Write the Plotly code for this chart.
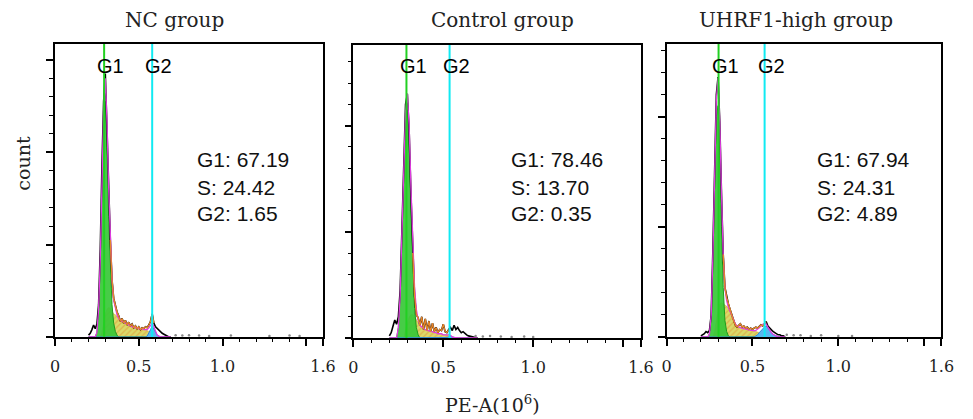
import plotly.graph_objects as go

FIG_W, FIG_H = 973, 419

GROUPS = ["NC group", "Control group", "UHRF1-high group"]

# PE-A bins (10^6)
X_BINS = [0.20, 0.21, 0.22, 0.23, 0.24, 0.25, 0.26, 0.27, 0.28, 0.29,
          0.30, 0.31, 0.32, 0.33, 0.34, 0.35, 0.36, 0.37, 0.38, 0.39,
          0.40, 0.41, 0.42, 0.43, 0.44, 0.45, 0.46, 0.47, 0.48, 0.49,
          0.50, 0.51, 0.52, 0.53, 0.54, 0.55, 0.56, 0.57, 0.58, 0.59,
          0.60, 0.61, 0.62, 0.63, 0.64, 0.65, 0.66, 0.67, 0.68, 0.69]

# raw histogram counts (arbitrary count units)
RAW_NC = [0.02, 0.04, 0.08, 0.13, 0.09, 0.14, 0.35, 0.95, 1.85, 2.55,
          2.85, 2.35, 1.65, 1.05, 0.62, 0.42, 0.33, 0.27, 0.23, 0.17,
          0.20, 0.15, 0.18, 0.13, 0.16, 0.12, 0.14, 0.10, 0.12, 0.09,
          0.11, 0.08, 0.10, 0.09, 0.11, 0.10, 0.13, 0.17, 0.25, 0.15,
          0.11, 0.09, 0.07, 0.06, 0.04, 0.03, 0.02, 0.01, 0.0, 0.0]
RAW_CTRL = [0.02, 0.05, 0.11, 0.17, 0.13, 0.20, 0.45, 1.10, 1.80, 2.20,
            2.30, 1.95, 1.35, 0.80, 0.40, 0.22, 0.19, 0.12, 0.20, 0.08,
            0.18, 0.07, 0.16, 0.06, 0.14, 0.06, 0.10, 0.05, 0.08, 0.07,
            0.13, 0.06, 0.05, 0.08, 0.10, 0.07, 0.12, 0.08, 0.10, 0.07,
            0.05, 0.06, 0.04, 0.03, 0.02, 0.015, 0.01, 0.01, 0.0, 0.0]
RAW_UHRF = [0.01, 0.02, 0.03, 0.05, 0.04, 0.06, 0.20, 0.80, 1.60, 2.20,
            2.36, 1.95, 1.30, 0.75, 0.45, 0.36, 0.30, 0.25, 0.20, 0.15,
            0.11, 0.09, 0.11, 0.12, 0.09, 0.10, 0.08, 0.09, 0.07, 0.08,
            0.07, 0.08, 0.09, 0.08, 0.10, 0.11, 0.10, 0.12, 0.14, 0.10,
            0.08, 0.06, 0.05, 0.04, 0.03, 0.02, 0.02, 0.01, 0.01, 0.0]

# fitted model components
G1_NC = [0] * 5 + [0.05, 0.30, 0.85, 1.70, 2.30, 2.55, 2.05, 1.30, 0.72, 0.35,
                   0.15, 0.06, 0.02] + [0] * 32
S_NC = [0] * 8 + [0.05, 0.15, 0.25, 0.30, 0.32, 0.31, 0.28, 0.25, 0.24, 0.22,
                  0.20, 0.18, 0.17, 0.16, 0.15, 0.14, 0.13, 0.12, 0.11, 0.11,
                  0.10, 0.10, 0.09, 0.09, 0.09, 0.08, 0.08, 0.07, 0.06, 0.05,
                  0.03, 0.02, 0.01] + [0] * 9
G2_NC = [0] * 35 + [0.01, 0.04, 0.08, 0.12, 0.09, 0.05, 0.02, 0.01] + [0] * 7

G1_CTRL = [0] * 5 + [0.10, 0.40, 1.00, 1.65, 2.05, 2.15, 1.80, 1.20, 0.65, 0.28,
                     0.10, 0.03] + [0] * 33
S_CTRL = [0] * 9 + [0.08, 0.15, 0.20, 0.22, 0.22, 0.20, 0.17, 0.14, 0.12, 0.10,
                    0.09, 0.08, 0.07, 0.07, 0.06, 0.06, 0.05, 0.05, 0.04, 0.04,
                    0.04, 0.03, 0.03, 0.03, 0.02, 0.01] + [0] * 15
G2_CTRL = [0] * 32 + [0.005, 0.01, 0.015, 0.01, 0.005] + [0] * 13

G1_UHRF = [0] * 5 + [0.03, 0.20, 0.75, 1.50, 2.00, 2.10, 1.65, 1.00, 0.45, 0.15,
                     0.05, 0.01] + [0] * 33
S_UHRF = [0] * 8 + [0.05, 0.15, 0.25, 0.30, 0.31, 0.30, 0.29, 0.28, 0.26, 0.23,
                    0.19, 0.15, 0.12, 0.10, 0.09, 0.085, 0.08, 0.075, 0.07, 0.07,
                    0.065, 0.06, 0.06, 0.055, 0.05, 0.05, 0.045, 0.04, 0.035, 0.03,
                    0.02, 0.01] + [0] * 10
G2_UHRF = [0] * 32 + [0.01, 0.02, 0.04, 0.06, 0.08, 0.09, 0.10, 0.08, 0.06, 0.04,
                      0.025, 0.015, 0.01] + [0] * 5

# sparse debris events beyond G2
DEBRIS_X_NC = [0.72, 0.76, 0.80, 0.86, 0.92, 1.05, 1.28, 1.40, 1.46]
DEBRIS_Y_NC = [0.02, 0.015, 0.02, 0.015, 0.01, 0.015, 0.01, 0.015, 0.01]
DEBRIS_X_CTRL = [0.68, 0.72, 0.76, 0.82, 0.88, 0.95, 1.00]
DEBRIS_Y_CTRL = [0.02, 0.015, 0.02, 0.015, 0.01, 0.015, 0.01]
DEBRIS_X_UHRF = [0.70, 0.74, 0.78, 0.84, 0.90, 1.00, 1.08]
DEBRIS_Y_UHRF = [0.02, 0.015, 0.015, 0.01, 0.015, 0.01, 0.01]

G1_PCT = [67.19, 78.46, 67.94]
S_PCT = [24.42, 13.70, 24.31]
G2_PCT = [1.65, 0.35, 4.89]
G1_GATE = [0.293, 0.295, 0.303]
G2_GATE = [0.580, 0.535, 0.571]

X_TICKS = [0, 0.5, 1.0, 1.5, 1.6]
X_TICK_TEXT = ["0", "0.5", "1.0", "", "1.6"]

RAW = [RAW_NC, RAW_CTRL, RAW_UHRF]
G1 = [G1_NC, G1_CTRL, G1_UHRF]
S = [S_NC, S_CTRL, S_UHRF]
G2 = [G2_NC, G2_CTRL, G2_UHRF]
DEBRIS_X = [DEBRIS_X_NC, DEBRIS_X_CTRL, DEBRIS_X_UHRF]
DEBRIS_Y = [DEBRIS_Y_NC, DEBRIS_Y_CTRL, DEBRIS_Y_UHRF]

# ---- layout geometry (pixels) ----
PANEL_PX = [(51, 324, 44, 337), (355, 648, 45, 338), (674, 954, 44, 337)]
Y_TOP = [3.17, 2.76, 2.66]
Y_MAJOR = [[0, 1, 2, 3], [0, 1, 2], [0, 1, 2]]
TITLE_PX = [173, 507, 806]
STATS_PX = [194, 513, 825]
STATS_Y_PX = [160, 187, 213]

SERIF = "DejaVu Serif"
SANS = "Liberation Sans, Arial"

fig = go.Figure()
annotations = []
shapes = []


def px2fx(px):
    return px / FIG_W


def py2fy(py):
    return 1 - py / FIG_H


for k in range(3):
    sfx = "" if k == 0 else str(k + 1)
    xa, ya = "x" + sfx, "y" + sfx
    x0, x1, y0, y1 = PANEL_PX[k]
    xs = X_BINS
    env = [a + b + c for a, b, c in zip(G1[k], S[k], G2[k])]
    s_part_x = [x for x, s in zip(xs, S[k]) if s > 0.015 and x >= 0.33]
    s_part_y = [r for x, s, r in zip(xs, S[k], RAW[k]) if s > 0.015 and x >= 0.33]

    fig.add_trace(go.Scatter(
        x=xs, y=S[k], mode="lines", fill="tozeroy",
        line=dict(color="#c8b040", width=0.6),
        fillcolor="#dada6a",
        fillpattern=dict(shape="/", fgcolor="#e08a2c", bgcolor="#dada6a",
                         size=4, solidity=0.3),
        xaxis=xa, yaxis=ya, showlegend=False, hoverinfo="skip"))
    fig.add_trace(go.Scatter(
        x=xs, y=G1[k], mode="lines", fill="tozeroy",
        line=dict(color="#1d9a1d", width=1),
        fillcolor="rgba(55,200,55,0.92)",
        xaxis=xa, yaxis=ya, showlegend=False, hoverinfo="skip"))
    fig.add_trace(go.Scatter(
        x=xs, y=G2[k], mode="lines", fill="tozeroy",
        line=dict(color="#2f86d8", width=1),
        fillcolor="#58b8f0",
        xaxis=xa, yaxis=ya, showlegend=False, hoverinfo="skip"))
    fig.add_trace(go.Scatter(
        x=xs, y=RAW[k], mode="lines",
        line=dict(color="black", width=1.6),
        xaxis=xa, yaxis=ya, showlegend=False, hoverinfo="skip"))
    fig.add_trace(go.Scatter(
        x=xs, y=env, mode="lines",
        line=dict(color="#e03ce0", width=1.3),
        xaxis=xa, yaxis=ya, showlegend=False, hoverinfo="skip"))
    fig.add_trace(go.Scatter(
        x=s_part_x, y=s_part_y, mode="lines",
        line=dict(color="#e8862a", width=1.3),
        xaxis=xa, yaxis=ya, showlegend=False, hoverinfo="skip"))
    fig.add_trace(go.Scatter(
        x=DEBRIS_X[k], y=DEBRIS_Y[k], mode="markers",
        marker=dict(color="#888888", size=2.5),
        xaxis=xa, yaxis=ya, showlegend=False, hoverinfo="skip"))

    fig.layout["xaxis" + sfx] = dict(
        domain=[px2fx(x0), px2fx(x1)], anchor=ya, range=[0, 1.6],
        showline=True, mirror=True, linecolor="black", linewidth=1.6,
        showgrid=False, zeroline=False,
        tickmode="array", tickvals=X_TICKS, ticktext=X_TICK_TEXT,
        ticks="outside", ticklen=7, tickwidth=1.6, tickcolor="black",
        ticklabelstandoff=7,
        minor=dict(dtick=0.1, ticks="outside", ticklen=3, tickwidth=1,
                   tickcolor="black", showgrid=False),
        tickfont=dict(family=SERIF, size=16, color="#222"))
    fig.layout["yaxis" + sfx] = dict(
        domain=[py2fy(y1), py2fy(y0)], anchor=xa, range=[0, Y_TOP[k]],
        showline=True, mirror=True, linecolor="black", linewidth=1.6,
        showgrid=False, zeroline=False, showticklabels=False,
        tickmode="array", tickvals=Y_MAJOR[k],
        ticks="outside", ticklen=7, tickwidth=1.6, tickcolor="black",
        minor=dict(dtick=0.2, ticks="outside", ticklen=4, tickwidth=1,
                   tickcolor="black", showgrid=False))

    for gate, col in ((G1_GATE[k], "#22d022"), (G2_GATE[k], "#10eaf2")):
        shapes.append(dict(type="line", xref=xa, yref=ya + " domain",
                           x0=gate, x1=gate, y0=0, y1=1,
                           line=dict(color=col, width=2)))
    for gate, lab in ((G1_GATE[k], "G1"), (G2_GATE[k], "G2")):
        annotations.append(dict(x=gate + 0.04, xref=xa, y=py2fy(66), yref="paper",
                                text=lab, showarrow=False, xanchor="center",
                                yanchor="middle",
                                font=dict(family=SANS, size=20, color="black")))

    annotations.append(dict(x=px2fx(TITLE_PX[k]), y=py2fy(20), xref="paper",
                            yref="paper", text=GROUPS[k], showarrow=False,
                            xanchor="center", yanchor="middle",
                            font=dict(family=SERIF, size=20, color="#222")))
    lines = [f"G1: {G1_PCT[k]:.2f}", f"S: {S_PCT[k]:.2f}", f"G2: {G2_PCT[k]:.2f}"]
    for txt, ypx in zip(lines, STATS_Y_PX):
        annotations.append(dict(x=px2fx(STATS_PX[k]), y=py2fy(ypx), xref="paper",
                                yref="paper", text=txt, showarrow=False,
                                xanchor="left", yanchor="middle",
                                font=dict(family=SANS, size=21, color="#111")))

annotations.append(dict(x=px2fx(18), y=py2fy(163), xref="paper", yref="paper",
                        text="count", textangle=-90, showarrow=False,
                        xanchor="center", yanchor="middle",
                        font=dict(family=SERIF, size=19, color="#222")))
annotations.append(dict(x=px2fx(497), y=py2fy(404), xref="paper", yref="paper",
                        text="PE-A(10<sup>6</sup>)", showarrow=False,
                        xanchor="center", yanchor="middle",
                        font=dict(family=SERIF, size=19, color="#222")))

fig.update_layout(width=FIG_W, height=FIG_H, autosize=False,
                  margin=dict(l=0, r=0, t=0, b=0),
                  paper_bgcolor="white", plot_bgcolor="white",
                  annotations=annotations, shapes=shapes, showlegend=False)

fig.write_html("out.html", config={"displayModeBar": False},
               post_script="document.body.style.margin='0px';"
                           "document.body.style.overflow='hidden';")
